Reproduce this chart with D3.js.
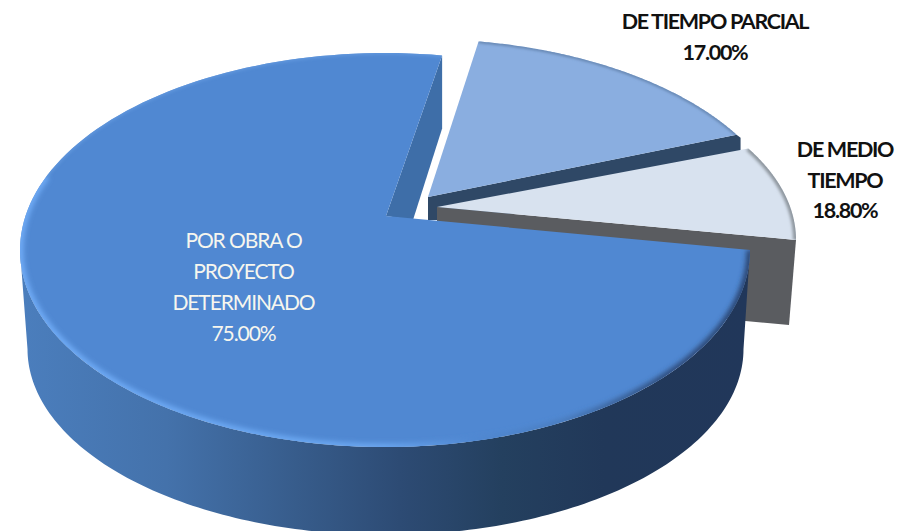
<!DOCTYPE html>
<html><head><meta charset="utf-8">
<style>html,body{margin:0;padding:0;background:#fff}svg{display:block}</style>
<script src="https://cdn.jsdelivr.net/npm/d3@7/dist/d3.min.js"></script>
</head><body>
<svg id="c" width="909" height="531"></svg>
<script>
// Chart data
const categories = ["DE TIEMPO PARCIAL", "DE MEDIO TIEMPO", "POR OBRA O PROYECTO DETERMINADO"];
const labelLines = [["DE TIEMPO PARCIAL"], ["DE MEDIO", "TIEMPO"], ["POR OBRA O", "PROYECTO", "DETERMINADO"]];
const printedPercent = [17.0, 18.8, 75.0];      // as printed on the labels
const visibleShare = [13.9, 8.6, 77.5];         // slice sizes

// Layout
const W = 909, H = 531, deg = Math.PI / 180;
const slices3d = [
  {cx:421, cy:236, rx:368, ry:197, ax:428, ay:197, fill:"#8aaee0", rim:"#5f7fa8", wall:"#2f4866"},
  {cx:461, cy:240, rx:335, ry:178, ax:437, ay:207, fill:"#d8e2ef", rim:"#8f979f", wall:"#5a5c60"},
  {cx:385, cy:250, rx:365, ry:197, ax:386, ay:216, fill:"#5088d2", rim:"#2a4470", wall:"#3e6ea8"}
];
const mainBase = {cx:385.5, cy:349, rx:358, ry:186};
const labelPos = [
  {x:715, y:[29,60], size:21.5, weight:700, fill:"#111", sp:-1.3},
  {x:845, y:[157,188,218], size:21.5, weight:700, fill:"#111", sp:-1.3},
  {x:243.5, y:[248,279,310,341], size:21, weight:400, fill:"#f6f6ee", sp:-1.1}
];

const pie = d3.pie().sort(null).value(d => d).startAngle(9 * deg).endAngle(369 * deg);
const arcs = pie(visibleShare);
const fmt = d3.format(".2f");
const svg = d3.select("#c");
const defs = svg.append("defs");
const line = d3.line();

const on = (g, t) => [g.cx + g.rx * Math.sin(t), g.cy - g.ry * Math.cos(t)];
const sweep = (g, a, b, n = 160) => d3.range(n + 1).map(i => on(g, a + (b - a) * i / n));
const facePath = (g, a) => line([[g.ax, g.ay], ...sweep(g, a.startAngle, a.endAngle)]) + "Z";

// filters / gradients
const blur = (id, s) => defs.append("filter").attr("id", id)
  .attr("filterUnits", "userSpaceOnUse").attr("x", 0).attr("y", 0).attr("width", W).attr("height", H)
  .append("feGaussianBlur").attr("stdDeviation", s);
blur("b1", 1.4); blur("b2", 2.6);
const gradient = (id, x1, x2, stops) => {
  const gr = defs.append("linearGradient").attr("id", id)
    .attr("gradientUnits", "userSpaceOnUse").attr("x1", x1).attr("x2", x2).attr("y1", 0).attr("y2", 0);
  stops.forEach(([o, c]) => gr.append("stop").attr("offset", o).attr("stop-color", c));
};
gradient("wallGrad", 20, 750, [[0,"#4b7ebd"],[0.2,"#4472ab"],[0.38,"#375c8b"],[0.52,"#2d4b74"],[0.66,"#24405f"],[0.8,"#213859"],[1,"#21375a"]]);
gradient("rimGrad", 20, 750, [[0,"#6fabf6"],[0.5,"#6aa6f0"],[0.62,"#5088d2"],[0.74,"#4a7dbf"],[0.88,"#2f4d7c"],[1,"#2a4470"]]);

function bevel(g, a, i, ranges) {
  defs.append("clipPath").attr("id", "clip" + i).append("path").attr("d", facePath(g, a));
  const gr = svg.append("g").attr("clip-path", `url(#clip${i})`);
  ranges.forEach(r => gr.append("path")
    .attr("d", line(sweep(g, r.from * deg, r.to * deg)))
    .attr("fill", "none").attr("stroke", r.color).attr("stroke-width", r.width)
    .attr("filter", `url(#${r.blur})`));
}

// light-blue slice
{
  const g = slices3d[0], a = arcs[0], e = on(g, a.endAngle);
  svg.append("path").attr("fill", g.wall)
    .attr("d", line([[g.ax, g.ay], e, [e[0] + 4, e[1] + 3], [e[0] + 4, e[1] + 60], [g.ax + 9, g.ay + 23], [g.ax, g.ay + 23]]) + "Z");
  svg.append("path").attr("d", facePath(g, a)).attr("fill", g.fill);
  bevel(g, a, 0, [{from:9, to:59, color:g.rim, width:3, blur:"b1"}]);
}
// pale slice
{
  const g = slices3d[1], a = arcs[1], e = on(g, a.endAngle);
  svg.append("path").attr("fill", g.wall)
    .attr("d", line([[g.ax, g.ay], e, [e[0] - 7, e[1] + 85], [g.ax, g.ay + 85]]) + "Z");
  svg.append("path").attr("d", facePath(g, a)).attr("fill", g.fill);
  bevel(g, a, 1, [{from:59, to:90, color:g.rim, width:6, blur:"b1"}]);
}
// main slice
{
  const g = slices3d[2], a = arcs[2], s = on(g, a.endAngle);
  // inner cut wall
  svg.append("path").attr("fill", g.wall)
    .attr("d", line([[g.ax, g.ay], s, [s[0], s[1] + 73], [g.ax + 27, g.ay + 4]]) + "Z");
  // outer wall
  const top = sweep(g, 90 * deg, 270 * deg), bot = sweep(mainBase, 270 * deg, 90 * deg);
  svg.append("path").attr("fill", "url(#wallGrad)").attr("d", line([...top, ...bot]) + "Z");
  svg.append("path").attr("d", facePath(g, a)).attr("fill", g.fill);
  bevel(g, a, 2, [
    {from:90, to:292, color:"url(#rimGrad)", width:7, blur:"b2"},
    {from:292, to:369, color:"#6298de", width:3, blur:"b1"}
  ]);
}

// labels
labelLines.forEach((lines, i) => {
  const p = labelPos[i];
  const rows = [...lines, fmt(printedPercent[i]) + "%"];
  svg.append("g").selectAll("text").data(rows).join("text")
    .attr("x", p.x).attr("y", (d, k) => p.y[k])
    .attr("text-anchor", "middle")
    .attr("font-family", "Lato, 'Open Sans', sans-serif")
    .attr("font-size", p.size).attr("font-weight", p.weight)
    .attr("letter-spacing", p.sp).attr("fill", p.fill)
    .text(d => d);
});
</script>
</body></html>
